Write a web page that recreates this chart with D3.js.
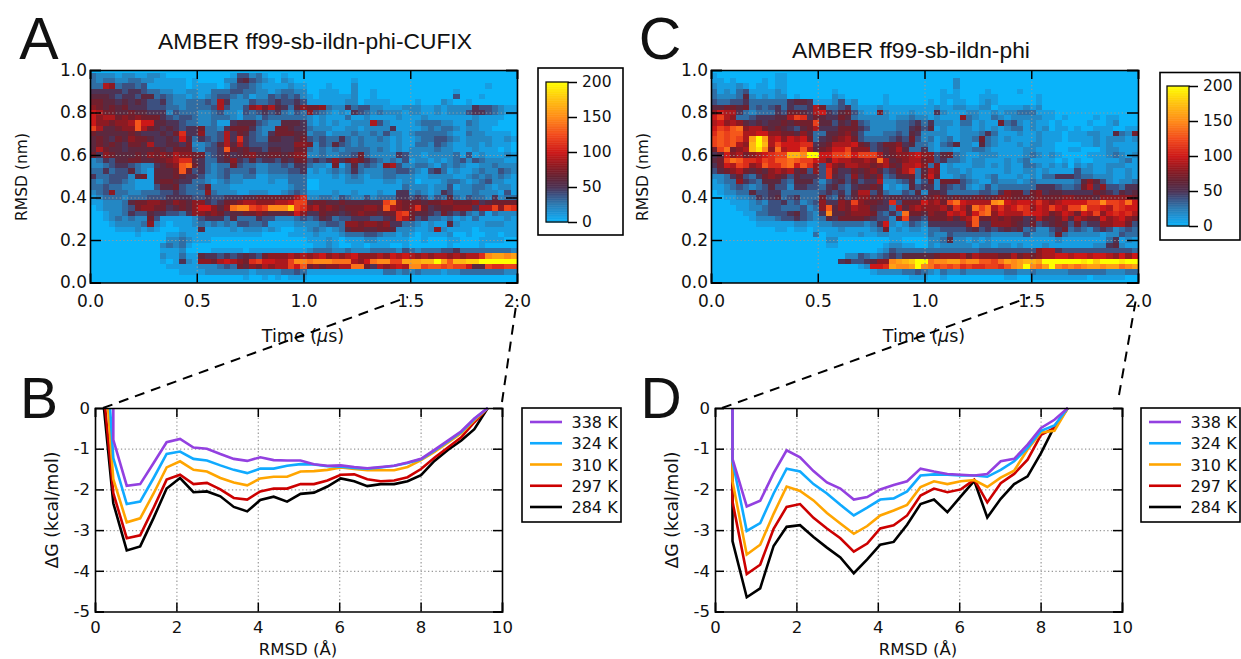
<!DOCTYPE html>
<html>
<head>
<meta charset="utf-8">
<script src="https://cdn.jsdelivr.net/npm/d3@7"></script>
<style>
body { margin: 0; background: #fff; }
text { font-family: "DejaVu Sans", sans-serif; fill: #111; }
</style>
</head>
<body>
<script>
const width = 1241;
const height = 659;

// Heatmap counts, one character per cell in base 36, times 10 (k = 200).
// Rows run from RMSD 1.0 nm down to 0.0 nm, columns from 0 to 2 us.
// Spaces are only there to keep the columns countable.
const heatA = [
"0000000000 0000000000 0000000000 0000 0000000000 0000000000 0000000000 000",
"3222122112 2100000000 0014423100 1000 0000000000 0000000000 0000000000 000",
"3233223322 1111101000 0225643210 2100 0000000100 0000000000 0000000000 000",
"3398344341 1111101111 0134432111 1211 0001000200 0000000000 0000000010 000",
"5555545543 3221122113 3344332212 3322 0011100200 1000000000 0001000000 000",
"6665455466 3432212123 4432312243 4342 1011111200 1000000000 0004000100 000",
"7766565654 4532233343 9522243345 4454 1111112201 1110000100 0210010000 000",
"8767675554 4433233334 9422489796 5368 7783225344 2211122211 2122225443 211",
"a977667665 5524333223 4221434545 3243 8432121543 2322212211 2122245543 211",
"a899787877 7543443223 3321332433 3333 2121113112 1111211121 1111112111 100",
"a887889daa 6655433223 1156664322 6665 2121211222 9421111233 3221132111 000",
"c966788d97 6565455733 2577753227 7655 3222112212 2225111123 2332122110 000",
"7666667655 5657b55833 4957643257 7766 2331222322 3242212333 3321132211 110",
"6765768776 5565a63543 495b543366 5567 4343353232 2321211233 4432122221 121",
"6767657769 5566572234 6969544455 5588 7243643232 2221211332 4321122121 110",
"6976656666 7657773244 5d76755466 5577 3232323333 2321212222 3221112111 010",
"7587666768 7879887734 5756786677 6788 2232233473 2222542212 2223141211 121",
"2354667766 7789bb6533 5685464554 6577 4545857875 4323241221 2123424322 211",
"2234554322 5678de7532 3374332233 4355 3221713634 3289422332 1323211223 222",
"3353446321 6667d74532 3433342233 3445 1212323532 2233443214 5312112322 432",
"5334442671 6667655422 3422331122 2333 1111212321 2233222112 2221123232 321",
"3234432111 6776553321 2322111121 1333 0011112221 1122122011 1233212342 211",
"3343322111 4667433472 2211111111 1233 0011111111 1111132221 2241223321 221",
"2348332233 3445433383 2221122211 2343 1111211211 1211552321 2542223222 141",
"1233323334 4455554454 4555667777 779b 2233243224 2333554542 4363243325 233",
"1122236778 8768768854 5778998889 9acc 6776676666 66ce877767 7887778567 777",
"0122234788 7756768aa8 68effcbcff ficb 8978767778 87d9878b75 677888599c 8cb",
"0012235446 5544358878 7566778766 67a8 5576656787 7677bc7665 4754532413 222",
"0012323227 4111112455 5363335442 2234 3465344555 4456b97453 3231213111 121",
"0001222238 2101112323 2324433411 1122 2234438878 8785533212 1162111122 211",
"0000111212 1000111611 1121222121 0011 2321236776 6776222112 8211110111 111",
"0000000100 0011211111 1111111000 0111 1211123334 4322121011 1120010011 011",
"0000000000 0022321110 0000000000 0000 1112101112 2111110010 0011000111 100",
"0000000000 0232310000 0000000000 0000 0112100110 1110010000 0010000100 000",
"0000000000 0111200001 1111011111 1111 2333223222 3333243233 3445333333 332",
"0000000000 0211311655 4545654788 8989 89a8989a88 898a9a9898 9989899bfg gfg",
"0000000000 0101521887 9a987bcaa9 9cff efffeee98a effccggghh kgdhhiikkk kkk",
"0000000000 0011111222 3437687989 9cad 7878899ee7 5989a9ffcd dcdcca66cb bcc",
"0000000000 0000111122 2222212222 3343 1111111111 1133232322 2122333333 322",
"0000000000 0000000000 0000100101 0111 0000000000 0000000000 0000000000 000",
"0000000000 0000000000 0000000000 0000 0000000000 0000000000 0000000000 000"
];

const heatC = [
"0000000000 0000000000 0000000000 0000 0000000000 0000000000 0000000000 000",
"1000000000 1100000000 0000000000 0000 0000000000 0000000000 0000000000 000",
"1101000010 1100000000 0000000000 0000 0000200000 0000000000 0000000000 000",
"2111210110 1100000000 0000000000 0000 0000200000 0000000000 0000000000 000",
"3121341111 2100000001 0000000000 0000 0010100001 0000100000 0000000000 000",
"3222362121 2201000002 1000000100 0000 0011100011 1000000100 0000000000 000",
"4334453333 3356651112 4120000100 0000 1010110012 1000000100 0000000000 000",
"6677673434 5354459733 4521112111 1111 1211221122 0111121200 0000000000 000",
"8a99532333 5477659a54 6742117211 1211 1521112211 2122333111 0000000000 000",
"ac98334555 669cb57655 7632222212 2322 1211183211 3212222211 0100001011 000",
"9a89865656 676777c664 6574322223 3453 5222133121 1734212110 1000010012 000",
"acbde89976 7654679555 7775422223 3564 6121122121 2123312120 1101001110 011",
"bdcdd99aa8 8776863366 7864222334 3652 2221122235 3111211211 1011122116 327",
"cdcdc9gkg9 a8a9a73567 8974333345 4742 3123122373 2121111211 1011112122 212",
"cdcd98hkh9 caaabb5679 99a7645778 5633 2134622163 2111212211 0000112121 111",
"7ce789hjf8 e9aad9678a ac88845679 6335 2122122332 1111122111 0011000122 111",
"56a89789ab cchhfkkaac cdaccc9678 89a8 8467321122 2111123212 1000011123 212",
"67cedbbacb ddedcca97a 998898e967 8997 8453321221 1121231111 0101001111 231",
"57a9cb89db bdeadb84a8 7998878976 99a8 3812111221 2121133212 1202121122 211",
"4678976768 98967484b7 5576786457 9b36 9812212111 1121122121 1114221121 121",
"2235743578 76465554b6 5485768346 6737 a711232112 3111212133 5554332221 121",
"1233854366 6436664245 6464559223 4624 7277743211 3222123222 2223686421 223",
"1123432346 4425544356 4356676121 2645 5254342124 2333333555 4334795844 355",
"0122336445 5333333454 5369946322 4362 6653333344 3587747856 6555557654 656",
"0011223545 6345333743 6468867566 5556 7876766776 7887777877 7887776888 887",
"0001112324 4534234855 87c87765b4 777a 897cea9999 fga9aa9b98 9aaaaccfcc bea",
"0000112234 4333423 8d6 8798865539 6898 8897b97ece 9b9acb8a9c a9ccfbba9c baa",
"0000011334 4456432 5f6 6788874353 e776 877a9a7ade 8a999baa97 8a97a9c8ab ab9",
"0000001222 3445432365 7777654427 c554 7778689d77 8787756976 7969877a89 a87",
"0000000111 1112211223 3333235a21 2432 5555558d55 8887657456 7647455889 974",
"0000000000 1101101111 2111123712 1221 3344445645 4565634224 5734324542 343",
"0000000000 0000003011 1112112211 1111 3224333333 2222242223 7322222122 433",
"0000000000 0000000022 0000000011 0000 2236221212 1111111111 2111111135 121",
"0000000000 0000000011 0000000122 1100 2122222122 1221211121 1111112256 211",
"0000000000 0000000000 0000001243 3333 3333333344 4444444899 5444444444 443",
"0000000000 0000000000 0224323454 6666 6788897988 8779787899 aa9aa9aa98 a8a",
"0000000000 0000000000 5644568 8fg hikk effggeffdd cegfghhgkk kkkkjkikkk jkk",
"0000000000 0000000000 00012aabgf fgkf ecdcdbcbbc cbdfgkfegk fefefggfgg efg",
"0000000000 0000000000 0000012222 3343 2132232222 2233223222 2233333322 233",
"0000000000 0000000000 0000000000 0111 0010000000 0011001111 1111101111 100",
"0000000000 0000000000 0000000000 0000 0000000000 0000000000 0000000000 000"
];

const colorStops = [0, 12, 25, 40, 50, 65, 80, 100, 125, 150, 175, 200];
const colorValues = ["#0ab4fa", "#1a98dc", "#2a7cb4", "#3c5080", "#4d3355", "#642233", "#8c1a22", "#cc1818", "#f24a1c", "#ff8a18", "#ffc010", "#ffff00"];

const temps = ["338 K", "324 K", "310 K", "297 K", "284 K"];
const tempColors = ["#9340e0", "#10aaff", "#ffa500", "#cc0000", "#000000"];

const rmsdA = [0.45, 0.78, 1.11, 1.44, 1.76, 2.09, 2.42, 2.75, 3.08, 3.41, 3.74, 4.06, 4.39, 4.72, 5.05, 5.38, 5.71, 6.04, 6.37, 6.69, 7.02, 7.35, 7.68, 8.01, 8.34, 8.67, 9.0, 9.32, 9.65];
const rmsdD = [0.43, 0.78, 1.11, 1.44, 1.76, 2.09, 2.42, 2.75, 3.08, 3.41, 3.74, 4.06, 4.39, 4.72, 5.05, 5.38, 5.71, 6.04, 6.37, 6.69, 7.02, 7.35, 7.68, 8.01, 8.34, 8.67];

// where each curve leaves the top of the plot
const startA = [0.45, 0.37, 0.32, 0.25, 0.22];
const startD = [0.43, 0.43, 0.43, 0.43, 0.43];

const gA338 = [-0.78, -1.91, -1.87, -1.35, -0.84, -0.76, -0.97, -1.0, -1.13, -1.25, -1.3, -1.21, -1.28, -1.29, -1.29, -1.38, -1.42, -1.41, -1.45, -1.48, -1.45, -1.42, -1.34, -1.25, -1.03, -0.8, -0.57, -0.26, 0];
const gA324 = [-1.23, -2.36, -2.3, -1.72, -1.13, -1.07, -1.25, -1.29, -1.41, -1.52, -1.6, -1.49, -1.49, -1.42, -1.38, -1.39, -1.43, -1.44, -1.47, -1.49, -1.46, -1.42, -1.35, -1.26, -1.05, -0.82, -0.59, -0.27, 0];
const gA310 = [-1.75, -2.81, -2.71, -2.1, -1.46, -1.31, -1.52, -1.56, -1.72, -1.83, -1.9, -1.73, -1.69, -1.69, -1.56, -1.55, -1.52, -1.46, -1.5, -1.53, -1.53, -1.53, -1.45, -1.28, -1.08, -0.85, -0.62, -0.3, 0];
const gA297 = [-2.09, -3.2, -3.13, -2.45, -1.76, -1.64, -1.87, -1.84, -2.0, -2.21, -2.25, -2.05, -1.98, -1.98, -1.87, -1.87, -1.78, -1.64, -1.63, -1.75, -1.8, -1.78, -1.7, -1.5, -1.22, -0.97, -0.72, -0.35, 0];
const gA284 = [-2.34, -3.5, -3.4, -2.7, -1.98, -1.72, -2.07, -2.05, -2.17, -2.43, -2.54, -2.26, -2.18, -2.3, -2.11, -2.08, -1.93, -1.73, -1.8, -1.92, -1.87, -1.87, -1.8, -1.65, -1.3, -1.03, -0.8, -0.52, 0];

const gD338 = [-1.25, -2.42, -2.28, -1.6, -1.04, -1.21, -1.55, -1.83, -1.98, -2.25, -2.19, -2.0, -1.89, -1.8, -1.49, -1.56, -1.62, -1.64, -1.66, -1.62, -1.31, -1.25, -0.9, -0.49, -0.29, 0];
const gD324 = [-1.3, -3.02, -2.83, -2.1, -1.49, -1.56, -1.87, -2.1, -2.38, -2.64, -2.45, -2.25, -2.22, -2.05, -1.66, -1.63, -1.64, -1.66, -1.66, -1.69, -1.52, -1.31, -0.98, -0.56, -0.43, 0];
const gD310 = [-1.8, -3.6, -3.36, -2.6, -1.93, -2.04, -2.27, -2.58, -2.84, -3.09, -2.9, -2.64, -2.52, -2.38, -1.94, -1.8, -1.87, -1.8, -1.77, -1.94, -1.71, -1.54, -1.02, -0.6, -0.56, 0];
const gD297 = [-2.3, -4.08, -3.85, -2.97, -2.43, -2.36, -2.7, -2.96, -3.2, -3.53, -3.33, -2.96, -2.88, -2.64, -2.15, -1.98, -2.07, -2.0, -1.76, -2.32, -1.85, -1.62, -1.27, -0.66, -0.49, 0];
const gD284 = [-3.27, -4.65, -4.43, -3.39, -2.92, -2.88, -3.17, -3.43, -3.67, -4.06, -3.72, -3.36, -3.29, -2.87, -2.36, -2.25, -2.56, -2.17, -1.79, -2.69, -2.23, -1.87, -1.68, -1.11, -0.45, 0];

const svg = d3.select("body").append("svg")
    .attr("width", width)
    .attr("height", height);

const color = d3.scaleLinear().domain(colorStops).range(colorValues).clamp(true);

function cellValue(ch) {
    if (ch === undefined) return 0;
    return parseInt(ch, 36) * 10;
}

function styleFrame(axis) {
    axis.select(".domain").attr("stroke", "#000").attr("stroke-width", 1.6);
    axis.selectAll(".tick line").attr("stroke", "#000").attr("stroke-width", 1.5);
}

function gridLines(g, axis) {
    g.call(axis);
    g.select(".domain").remove();
    g.selectAll("text").remove();
    g.selectAll("line")
        .attr("stroke", "#999")
        .attr("stroke-width", 1.2)
        .attr("stroke-dasharray", "1.3,2.4");
}

function drawHeat(rawRows, box) {
    const w = box.x1 - box.x0;
    const h = box.y1 - box.y0;
    const g = svg.append("g").attr("transform", `translate(${box.x0},${box.y0})`);

    const x = d3.scaleLinear().domain([0, 2]).range([0, w]);
    const y = d3.scaleLinear().domain([0, 1]).range([h, 0]).clamp(true);
    const band = d3.scaleBand().domain(d3.range(67)).range([0, w]);

    const cells = [];
    rawRows.forEach((raw, r) => {
        const row = raw.replace(/ /g, "");
        d3.range(67).forEach(c => {
            cells.push({ col: c, center: 1 - r * 0.025, value: cellValue(row[c]) });
        });
    });

    g.selectAll("rect.cell")
        .data(cells)
        .enter()
        .append("rect")
        .attr("class", "cell")
        .attr("x", d => band(d.col))
        .attr("width", band.bandwidth() + 0.5)
        .attr("y", d => y(d.center + 0.0125))
        .attr("height", d => y(d.center - 0.0125) - y(d.center + 0.0125) + 0.5)
        .attr("fill", d => color(d.value))
        .attr("shape-rendering", "crispEdges");

    gridLines(g.append("g").attr("transform", `translate(0,${h})`),
        d3.axisBottom(x).tickValues([0.5, 1, 1.5]).tickSize(-h));
    gridLines(g.append("g"),
        d3.axisLeft(y).tickValues([0.2, 0.4, 0.6, 0.8]).tickSize(-w));

    const fmt = d3.format(".1f");
    const bottom = g.append("g").attr("transform", `translate(0,${h})`)
        .call(d3.axisBottom(x).tickValues([0, 0.5, 1, 1.5, 2]).tickSize(-9).tickPadding(12).tickFormat(fmt));
    const left = g.append("g")
        .call(d3.axisLeft(y).tickValues([0, 0.2, 0.4, 0.6, 0.8, 1]).tickSize(-11).tickPadding(3).tickFormat(fmt));
    const top = g.append("g")
        .call(d3.axisTop(x).tickValues([0, 0.5, 1, 1.5, 2]).tickSize(-9).tickFormat(""));
    const right = g.append("g").attr("transform", `translate(${w},0)`)
        .call(d3.axisRight(y).tickValues([0, 0.2, 0.4, 0.6, 0.8, 1]).tickSize(-11).tickFormat(""));
    [bottom, left, top, right].forEach(styleFrame);
    bottom.selectAll("text").attr("font-size", 17).attr("font-family", "DejaVu Sans").attr("fill", "#111");
    left.selectAll("text").attr("font-size", 17).attr("font-family", "DejaVu Sans").attr("fill", "#111");
}

function drawColorbar(box, bar) {
    svg.append("rect")
        .attr("x", box.x0).attr("y", box.y0)
        .attr("width", box.x1 - box.x0).attr("height", box.y1 - box.y0)
        .attr("fill", "#fff").attr("stroke", "#000").attr("stroke-width", 1.6);

    const y = d3.scaleLinear().domain([0, 200]).range([bar.y1, bar.y0]);

    svg.append("g").selectAll("rect")
        .data(d3.range(0, 200))
        .enter()
        .append("rect")
        .attr("x", bar.x0)
        .attr("width", bar.x1 - bar.x0)
        .attr("y", d => y(d + 1))
        .attr("height", d => y(d) - y(d + 1) + 0.5)
        .attr("fill", d => color(d + 0.5));

    svg.append("rect")
        .attr("x", bar.x0).attr("y", bar.y0)
        .attr("width", bar.x1 - bar.x0).attr("height", bar.y1 - bar.y0)
        .attr("fill", "none").attr("stroke", "#111").attr("stroke-width", 1.3);

    const axis = svg.append("g").attr("transform", `translate(${bar.x1},0)`)
        .call(d3.axisRight(y).tickValues([0, 50, 100, 150, 200]).tickSize(9).tickPadding(5));
    axis.select(".domain").remove();
    axis.selectAll(".tick line").attr("stroke", "#000").attr("stroke-width", 1.5);
    axis.selectAll("text").attr("font-size", 15.5).attr("font-family", "DejaVu Sans").attr("fill", "#111");
}

function drawFree(box, bins, starts, series) {
    const w = box.x1 - box.x0;
    const h = box.y1 - box.y0;
    const g = svg.append("g").attr("transform", `translate(${box.x0},${box.y0})`);

    const x = d3.scaleLinear().domain([0, 10]).range([0, w]);
    const y = d3.scaleLinear().domain([-5, 0]).range([h, 0]);

    gridLines(g.append("g").attr("transform", `translate(0,${h})`),
        d3.axisBottom(x).tickValues([2, 4, 6, 8]).tickSize(-h));
    gridLines(g.append("g"),
        d3.axisLeft(y).tickValues([-4, -3, -2, -1]).tickSize(-w));

    const line = d3.line().x(d => x(d[0])).y(d => y(d[1]));

    // black first so the purple curve ends up on top
    d3.range(series.length - 1, -1, -1).forEach(i => {
        const pts = [[starts[i], 0]].concat(bins.map((b, k) => [b, series[i][k]]));
        g.append("path")
            .attr("d", line(pts))
            .attr("fill", "none")
            .attr("stroke", tempColors[i])
            .attr("stroke-width", 2.6)
            .attr("stroke-linejoin", "miter");
    });

    const bottom = g.append("g").attr("transform", `translate(0,${h})`)
        .call(d3.axisBottom(x).tickValues([0, 2, 4, 6, 8, 10]).tickSize(-9).tickPadding(10));
    const left = g.append("g")
        .call(d3.axisLeft(y).tickValues([-5, -4, -3, -2, -1, 0]).tickSize(-9).tickPadding(5).tickFormat(d3.format("d")));
    const top = g.append("g")
        .call(d3.axisTop(x).tickValues([0, 2, 4, 6, 8, 10]).tickSize(-9).tickFormat(""));
    const right = g.append("g").attr("transform", `translate(${w},0)`)
        .call(d3.axisRight(y).tickValues([-5, -4, -3, -2, -1, 0]).tickSize(-9).tickFormat(""));
    [bottom, left, top, right].forEach(styleFrame);
    bottom.selectAll("text").attr("font-size", 16.5).attr("font-family", "DejaVu Sans").attr("fill", "#111");
    left.selectAll("text").attr("font-size", 16.5).attr("font-family", "DejaVu Sans").attr("fill", "#111")
        .text(d => d < 0 ? "-" + Math.abs(d) : d);
}

function drawLegend(x0, y0) {
    svg.append("rect")
        .attr("x", x0).attr("y", y0)
        .attr("width", 99).attr("height", 114)
        .attr("fill", "#fff").attr("stroke", "#000").attr("stroke-width", 1.6);
    const rowY = d3.scalePoint().domain(temps).range([y0 + 14, y0 + 99]);
    temps.forEach((t, i) => {
        svg.append("line")
            .attr("x1", x0 + 8).attr("x2", x0 + 40)
            .attr("y1", rowY(t)).attr("y2", rowY(t))
            .attr("stroke", tempColors[i]).attr("stroke-width", 2.6);
        svg.append("text")
            .attr("x", x0 + 49.5).attr("y", rowY(t) + 6)
            .attr("font-size", 16).text(t);
    });
}

function addText(str, x, y, size, opts) {
    const o = opts || {};
    const t = svg.append("text")
        .attr("x", x).attr("y", y)
        .attr("font-size", size)
        .attr("text-anchor", o.anchor || "middle")
        .attr("transform", o.rotate ? `rotate(-90,${x},${y})` : null);
    if (o.sans) t.style("font-family", "'Liberation Sans', Arial, sans-serif");
    return t.text(str);
}

function timeLabel(x, y) {
    const t = svg.append("text").attr("x", x).attr("y", y)
        .attr("text-anchor", "middle").attr("font-size", 17.5);
    t.append("tspan").text("Time (");
    t.append("tspan").attr("font-style", "italic").text("\u00b5");
    t.append("tspan").text("s)");
}

function dashed(x1, y1, x2, y2) {
    svg.append("line")
        .attr("x1", x1).attr("y1", y1).attr("x2", x2).attr("y2", y2)
        .attr("stroke", "#000").attr("stroke-width", 2)
        .attr("stroke-dasharray", "10,7");
}

drawHeat(heatA, { x0: 90, x1: 517, y0: 70, y1: 282.5 });
drawHeat(heatC, { x0: 711, x1: 1138, y0: 70, y1: 282.5 });
drawColorbar({ x0: 538, x1: 623, y0: 68, y1: 235 }, { x0: 546, x1: 568, y0: 82, y1: 222 });
drawColorbar({ x0: 1160, x1: 1240, y0: 72.5, y1: 240 }, { x0: 1167, x1: 1189, y0: 86, y1: 226 });

drawFree({ x0: 95, x1: 502, y0: 408, y1: 611.5 }, rmsdA, startA, [gA338, gA324, gA310, gA297, gA284]);
drawFree({ x0: 715, x1: 1122, y0: 408, y1: 611.5 }, rmsdD, startD, [gD338, gD324, gD310, gD297, gD284]);
drawLegend(522, 408);
drawLegend(1141, 408);

addText("AMBER ff99-sb-ildn-phi-CUFIX", 315, 49, 22.8, { sans: true });
addText("AMBER ff99-sb-ildn-phi", 911, 58, 22.8, { sans: true });
addText("A", 39, 59, 59, { sans: true });
addText("C", 660, 59, 59, { sans: true });
addText("B", 39, 418, 57, { sans: true });
addText("D", 661, 418, 57, { sans: true });

addText("RMSD (nm)", 27, 177, 15.5, { rotate: true });
addText("RMSD (nm)", 648, 177, 15.5, { rotate: true });
timeLabel(303, 342);
timeLabel(924, 342);
addText("\u0394G (kcal/mol)", 58, 510, 17.3, { rotate: true });
addText("\u0394G (kcal/mol)", 678, 510, 17.3, { rotate: true });
addText("RMSD (\u00c5)", 298, 655, 16.5);
addText("RMSD (\u00c5)", 918, 655, 16.5);

dashed(103, 408, 408, 297);
dashed(502, 402, 517, 299);
dashed(722, 408, 1030, 297);
dashed(1119, 395, 1136, 299);
</script>
</body>
</html>
